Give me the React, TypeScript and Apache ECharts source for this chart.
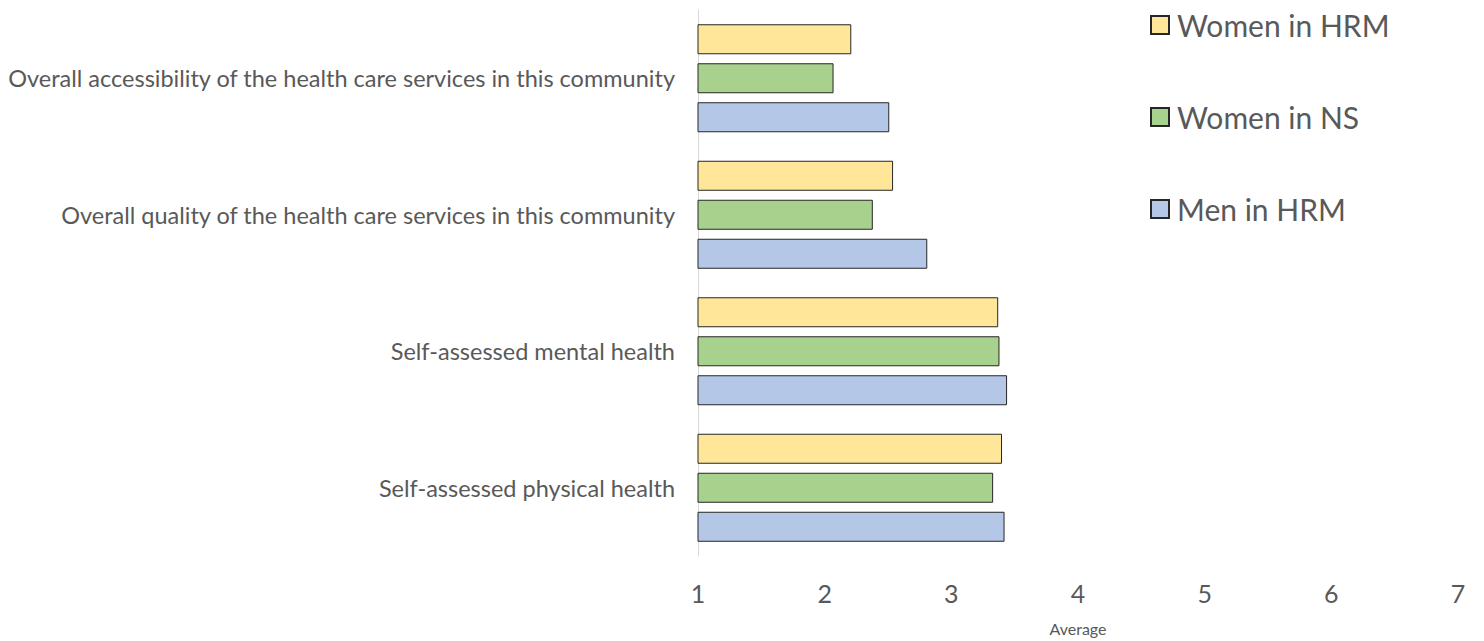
import React, { useEffect, useRef } from "react";
import * as echarts from "echarts";

const categories = [
  "Self-assessed physical health",
  "Self-assessed mental health",
  "Overall quality of the health care services in this community",
  "Overall accessibility of the health care services in this community",
];
const womenHRM = [3.4, 3.37, 2.54, 2.21];
const womenNS = [3.33, 3.38, 2.38, 2.07];
const menHRM = [3.42, 3.44, 2.81, 2.51];
const seriesNames = ["Women in HRM", "Women in NS", "Men in HRM"];
const xTicks = [1, 2, 3, 4, 5, 6, 7];

const FONT = "Lato, 'Liberation Sans', sans-serif";
const GRAY = "#595959";

export default function App() {
  const ref = useRef<HTMLDivElement>(null);
  useEffect(() => {
    if (!ref.current) return;
    const chart = echarts.init(ref.current, undefined, { renderer: "svg" });
    const barStyle = (color: string) => ({
      color,
      borderColor: "#262626",
      borderWidth: 1,
    });
    chart.setOption({
      animation: false,
      textStyle: { fontFamily: FONT },
      grid: { left: 698, right: 26, top: 10, bottom: 84, containLabel: false },
      legend: {
        orient: "vertical",
        left: 1145,
        top: 5,
        itemWidth: 18,
        itemHeight: 18,
        itemGap: 62,
        icon: "rect",
        data: seriesNames,
        textStyle: { fontSize: 30, color: GRAY, fontFamily: FONT, padding: [0, 0, 0, 3] },
      },
      xAxis: {
        type: "value",
        min: xTicks[0],
        max: xTicks[xTicks.length - 1],
        interval: 1,
        axisLine: { show: false },
        axisTick: { show: false },
        splitLine: { show: false },
        axisLabel: { fontSize: 25, color: GRAY, margin: 24, fontFamily: FONT },
        name: "Average",
        nameLocation: "middle",
        nameGap: 64,
        nameTextStyle: { fontSize: 16, color: GRAY, fontFamily: FONT },
      },
      yAxis: {
        type: "category",
        data: categories,
        axisLine: { show: true, lineStyle: { color: "#D9D9D9", width: 1 } },
        axisTick: { show: false },
        axisLabel: { fontSize: 23.5, color: GRAY, margin: 23, fontFamily: FONT },
      },
      series: [
        {
          name: "Women in HRM",
          type: "bar",
          data: womenHRM,
          barWidth: 30,
          barGap: "30%",
          itemStyle: barStyle("#FFE699"),
        },
        {
          name: "Women in NS",
          type: "bar",
          data: womenNS,
          barWidth: 30,
          barGap: "30%",
          itemStyle: barStyle("#A9D18E"),
        },
        {
          name: "Men in HRM",
          type: "bar",
          data: menHRM,
          barWidth: 30,
          barGap: "30%",
          itemStyle: barStyle("#B4C7E7"),
        },
      ],
    });
    return () => chart.dispose();
  }, []);
  return (
    <div
      ref={ref}
      style={{ position: "fixed", left: 0, top: 0, width: 1484, height: 641, background: "#fff" }}
    />
  );
}
